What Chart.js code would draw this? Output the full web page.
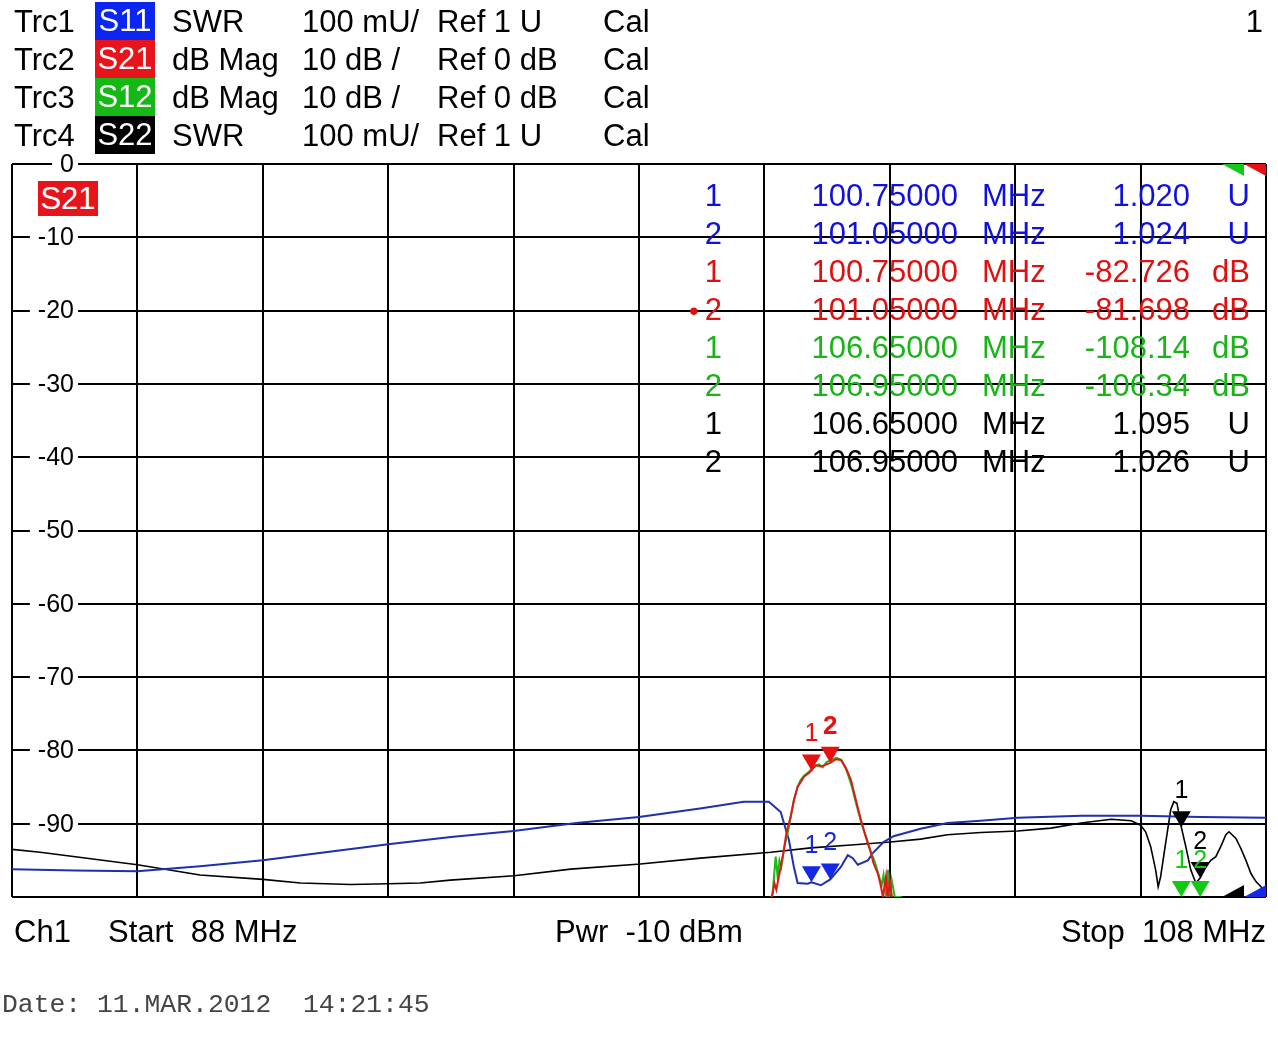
<!DOCTYPE html>
<html>
<head>
<meta charset="utf-8">
<script src="https://cdn.jsdelivr.net/npm/chart.js@4.4.1/dist/chart.umd.min.js"></script>
<style>
  body { margin: 0; background: #fff; overflow: hidden; }
  #wrap { position: relative; width: 1278px; height: 1052px; font-family: "Liberation Sans", Arial, sans-serif; }
  #plot { position: absolute; left: 0; top: 0; }
  .t { position: absolute; font-size: 31px; line-height: 31px; white-space: pre; }
  .r { text-align: right; width: 300px; }
  .box { position: absolute; width: 60px; height: 38px; line-height: 38px; font-size: 31px; color: #fff; text-align: center; }
  .date { position: absolute; font-family: "Liberation Mono", "DejaVu Sans Mono", monospace; font-size: 26.4px; line-height: 26px; color: #444; white-space: pre; }
</style>
</head>
<body>
<div id="wrap">
  <canvas id="plot" width="1278" height="1052"></canvas>
</div>
<script>
// Trace data
const s11Freq = [88.00, 89.00, 90.00, 91.00, 92.00, 93.00, 94.00, 95.00, 96.00, 97.00, 98.00, 99.00, 99.67, 100.07, 100.26, 100.39, 100.47, 100.53, 100.69, 100.75, 100.90, 101.05, 101.22, 101.33, 101.41, 101.49, 101.65, 101.74, 101.90, 102.06, 102.49, 102.92, 103.45, 104.04, 105.05, 106.00, 106.96, 108.00];
const s11Swr = [1.038, 1.036, 1.035, 1.042, 1.050, 1.061, 1.072, 1.082, 1.090, 1.101, 1.109, 1.121, 1.130, 1.130, 1.116, 1.078, 1.041, 1.019, 1.018, 1.020, 1.016, 1.024, 1.041, 1.057, 1.053, 1.044, 1.050, 1.061, 1.075, 1.083, 1.093, 1.101, 1.104, 1.108, 1.111, 1.111, 1.109, 1.108];

const s21Freq = [100.10, 100.16, 100.19, 100.26, 100.31, 100.35, 100.42, 100.47, 100.53, 100.58, 100.63, 100.71, 100.75, 100.82, 100.90, 100.96, 101.05, 101.14, 101.22, 101.30, 101.38, 101.46, 101.54, 101.60, 101.65, 101.70, 101.74, 101.81, 101.86, 101.89, 101.94, 101.97, 102.00, 102.05];
const s21Db = [-101, -98.1, -99.0, -95.9, -93.6, -91.3, -89.0, -86.8, -85.0, -84.3, -83.6, -83.1, -82.726, -82.0, -82.2, -82.0, -81.698, -81.2, -81.3, -82.4, -84.0, -86.8, -89.5, -91.3, -92.7, -94.0, -95.4, -96.8, -98.6, -100.0, -97.2, -100.5, -97.7, -101];

const s12Freq = [100.08, 100.13, 100.18, 100.21, 100.24, 100.27, 100.32, 100.37, 100.42, 100.47, 100.53, 100.58, 100.63, 100.71, 100.77, 100.87, 100.93, 100.99, 101.07, 101.15, 101.23, 101.31, 101.39, 101.47, 101.55, 101.63, 101.70, 101.76, 101.82, 101.87, 101.90, 101.94, 101.97, 102.00, 102.03, 102.08, 102.19];
const s12Db = [-101, -99.5, -94.5, -97.2, -95.0, -95.9, -93.1, -91.3, -89.1, -86.8, -84.9, -84.0, -83.5, -82.9, -82.4, -81.9, -82.3, -81.6, -81.3, -81.0, -81.3, -82.7, -84.8, -87.5, -90.0, -92.0, -93.9, -95.2, -96.9, -98.4, -97.0, -100.2, -96.3, -99.7, -97.7, -100.0, -100.0];

const s22Freq = [88.00, 88.45, 89.01, 90.00, 91.00, 92.00, 92.60, 93.40, 94.00, 94.51, 94.99, 96.01, 96.91, 98.02, 98.98, 100.10, 100.74, 101.38, 102.01, 102.49, 102.92, 103.45, 104.04, 104.57, 105.05, 105.53, 105.85, 106.00, 106.08, 106.16, 106.24, 106.28, 106.32, 106.40, 106.48, 106.53, 106.58, 106.65, 106.72, 106.80, 106.88, 106.95, 107.04, 107.12, 107.20, 107.28, 107.36, 107.41, 107.52, 107.60, 107.68, 107.76, 107.84, 107.92, 108.00];
const s22Swr = [1.065, 1.061, 1.055, 1.044, 1.030, 1.024, 1.019, 1.017, 1.018, 1.019, 1.023, 1.029, 1.038, 1.045, 1.053, 1.061, 1.067, 1.071, 1.075, 1.079, 1.085, 1.088, 1.090, 1.094, 1.101, 1.106, 1.104, 1.098, 1.089, 1.069, 1.037, 1.014, 1.028, 1.074, 1.119, 1.130, 1.128, 1.095, 1.069, 1.037, 1.019, 1.026, 1.041, 1.050, 1.055, 1.069, 1.085, 1.089, 1.080, 1.066, 1.050, 1.032, 1.021, 1.014, 1.005];

// Markers
const markerNo = ['1', '2'];
const s11MkFreq = [100.75, 101.05];
const s11MkVal = [1.020, 1.024];
const s21MkFreq = [100.75, 101.05];
const s21MkVal = [-82.726, -81.698];
const s12MkFreq = [106.65, 106.95];
const s12MkVal = [-108.14, -106.34];
const s22MkFreq = [106.65, 106.95];
const s22MkVal = [1.095, 1.026];

// Axis labels
const dbTicks = [0, -10, -20, -30, -40, -50, -60, -70, -80, -90];

// Header lines
const traceIds = ['Trc1', 'Trc2', 'Trc3', 'Trc4'];
const traceParams = ['S11', 'S21', 'S12', 'S22'];
const traceFormats = ['SWR', 'dB Mag', 'dB Mag', 'SWR'];
const traceScales = ['100 mU/', '10 dB /', '10 dB /', '100 mU/'];
const traceRefs = ['Ref 1 U', 'Ref 0 dB', 'Ref 0 dB', 'Ref 1 U'];

const FONT = '"Liberation Sans", Arial, sans-serif';
const boxColors = ['#0a26f0', '#e8141c', '#16b816', '#000000'];
const textColors = ['#1010e0', '#e01010', '#18b418', '#000000'];
const traceColors = ['#1f2fae', '#e01818', '#1cb81c', '#000000'];

const wrap = document.getElementById('wrap');
function addText(str, x, cy, cls, color, right) {
    const d = document.createElement('div');
    d.className = 't' + (right ? ' r' : '') + (cls ? ' ' + cls : '');
    d.textContent = str;
    d.style.left = (right ? x - 300 : x) + 'px';
    d.style.top = (cy - 15) + 'px';
    if (color) d.style.color = color;
    wrap.appendChild(d);
    return d;
}

// header block
traceIds.forEach((id, i) => {
    const cy = 21 + i * 38;
    addText(id, 14, cy);
    const b = document.createElement('div');
    b.className = 'box';
    b.style.left = '95px';
    b.style.top = (2 + i * 38) + 'px';
    b.style.background = boxColors[i];
    b.textContent = traceParams[i];
    wrap.appendChild(b);
    addText(traceFormats[i], 172, cy);
    addText(traceScales[i], 302, cy);
    addText(traceRefs[i], 437, cy);
    addText('Cal', 603, cy);
});
addText('1', 1263, 21, '', '#000', true);

// S21 tag in the diagram
const tag = document.createElement('div');
tag.className = 'box';
tag.style.left = '38px';
tag.style.top = '181px';
tag.style.height = '35px';
tag.style.lineHeight = '35px';
tag.style.background = '#e8141c';
tag.textContent = 'S21';
wrap.appendChild(tag);

// marker table
const tableSets = [
    [s11MkFreq, s11MkVal, 'U', v => v.toFixed(3)],
    [s21MkFreq, s21MkVal, 'dB', v => v.toPrecision(5)],
    [s12MkFreq, s12MkVal, 'dB', v => v.toPrecision(5)],
    [s22MkFreq, s22MkVal, 'U', v => v.toFixed(3)]
];
let row = 0;
tableSets.forEach((set, t) => {
    set[0].forEach((f, i) => {
        const cy = 195 + row * 38;
        const col = textColors[t];
        addText(markerNo[i], 722, cy, '', col, true);
        addText(f.toFixed(5), 958, cy, '', col, true);
        addText('MHz', 982, cy, '', col);
        addText(set[3](set[1][i]), 1190, cy, '', col, true);
        addText(set[2], 1250, cy, '', col, true);
        if (t === 1 && i === 1) {
            const dot = addText('\u2022', 689, cy + 1, '', col);
            dot.style.fontSize = '28px';
        }
        row++;
    });
});

// footer
addText('Ch1', 14, 931);
addText('Start  88 MHz', 108, 931);
addText('Pwr  -10 dBm', 555, 931);
addText('Stop  108 MHz', 1266, 931, '', '#000', true);
const dt = document.createElement('div');
dt.className = 'date';
dt.style.left = '2px';
dt.style.top = '992px';
dt.textContent = 'Date: 11.MAR.2012  14:21:45';
wrap.appendChild(dt);

function pts(xs, ys) {
    return xs.map((x, i) => ({ x: x, y: ys[i] }));
}

function drawMarkers(chart, freqs, vals, yScale, color, boldIdx) {
    const { ctx, chartArea, scales: { x } } = chart;
    freqs.forEach((f, i) => {
        const px = x.getPixelForValue(f);
        let py = yScale.getPixelForValue(vals[i]);
        py = Math.min(Math.max(py, chartArea.top), chartArea.bottom);
        ctx.fillStyle = color;
        ctx.beginPath();
        ctx.moveTo(px, py);
        ctx.lineTo(px - 9.5, py - 16);
        ctx.lineTo(px + 9.5, py - 16);
        ctx.closePath();
        ctx.fill();
        ctx.font = (i === boldIdx ? 'bold 26px ' : '25px ') + FONT;
        ctx.textAlign = 'center';
        ctx.textBaseline = 'middle';
        ctx.fillText(markerNo[i], px, py - 36);
    });
}

function corner(ctx, x0, x1, yEdge, h, color) {
    ctx.fillStyle = color;
    ctx.beginPath();
    ctx.moveTo(x0, yEdge);
    ctx.lineTo(x1, yEdge);
    ctx.lineTo(x1, yEdge + h);
    ctx.closePath();
    ctx.fill();
}

const overlay = {
    id: 'overlay',
    beforeDatasetsDraw(chart) {
        const { ctx, chartArea, scales: { y } } = chart;
        const xr = chartArea.left + 62;
        ctx.save();
        ctx.font = '25px ' + FONT;
        ctx.textAlign = 'right';
        ctx.textBaseline = 'middle';
        dbTicks.forEach(v => {
            const py = y.getPixelForValue(v);
            const label = String(v);
            const w = ctx.measureText(label).width;
            ctx.fillStyle = '#fff';
            ctx.fillRect(xr - w - 8, py - 3, w + 12, 6);
            ctx.fillStyle = '#000';
            ctx.fillText(label, xr, py + 1);
        });
        ctx.restore();
    },
    afterDatasetsDraw(chart) {
        const { ctx, chartArea, scales } = chart;
        ctx.save();
        drawMarkers(chart, s11MkFreq, s11MkVal, scales.swr, '#1428e6', -1);
        drawMarkers(chart, s22MkFreq, s22MkVal, scales.swr, '#000000', -1);
        drawMarkers(chart, s12MkFreq, s12MkVal, scales.y, '#16c816', -1);
        drawMarkers(chart, s21MkFreq, s21MkVal, scales.y, '#e81010', 1);
        // off-scale indicators in the corners
        const r = chartArea.right;
        corner(ctx, r - 44, r - 22, chartArea.top, 12, '#16c816');
        corner(ctx, r - 22, r, chartArea.top, 12, '#e81010');
        corner(ctx, r - 44, r - 22, chartArea.bottom, -12, '#000000');
        corner(ctx, r - 22, r, chartArea.bottom, -12, '#1428e6');
        ctx.restore();
    }
};

const gridOpts = { color: '#000', lineWidth: 2, drawTicks: false };

new Chart(document.getElementById('plot'), {
    type: 'line',
    data: {
        datasets: [
            { label: 'S21', data: pts(s21Freq, s21Db), borderColor: traceColors[1], borderWidth: 2, yAxisID: 'y' },
            { label: 'S12', data: pts(s12Freq, s12Db), borderColor: traceColors[2], borderWidth: 2, yAxisID: 'y' },
            { label: 'S11', data: pts(s11Freq, s11Swr), borderColor: traceColors[0], borderWidth: 2, yAxisID: 'swr' },
            { label: 'S22', data: pts(s22Freq, s22Swr), borderColor: traceColors[3], borderWidth: 1.6, yAxisID: 'swr' }
        ]
    },
    options: {
        responsive: false,
        animation: false,
        events: [],
        layout: { padding: { left: 12, right: 12, top: 164, bottom: 155 } },
        elements: { point: { radius: 0 }, line: { tension: 0 } },
        plugins: { legend: { display: false }, tooltip: { enabled: false } },
        scales: {
            x: {
                type: 'linear', min: 88, max: 108,
                ticks: { display: false, stepSize: 2 },
                grid: gridOpts,
                border: { display: false }
            },
            y: {
                min: -100, max: 0,
                ticks: { display: false, stepSize: 10 },
                grid: gridOpts,
                border: { display: false }
            },
            swr: {
                axis: 'y', position: 'right', display: false, min: 1, max: 2
            }
        }
    },
    plugins: [overlay]
});
</script>
</body>
</html>
